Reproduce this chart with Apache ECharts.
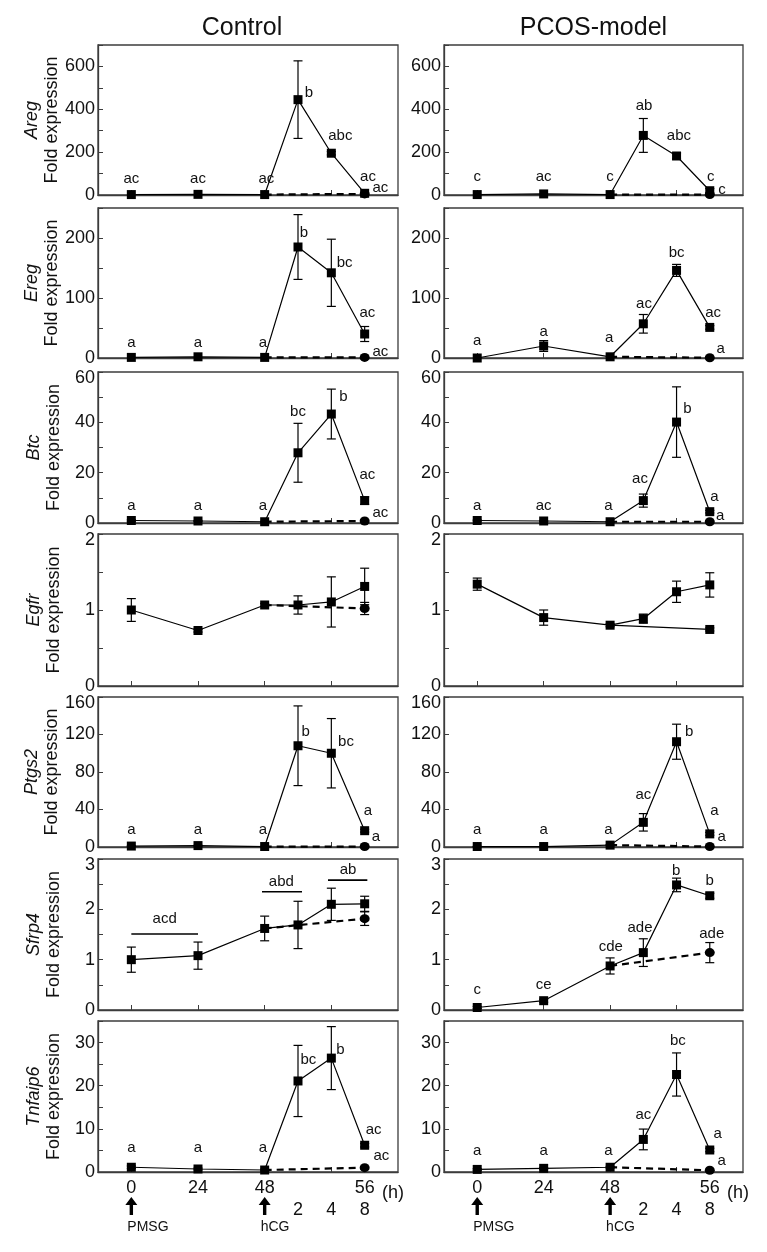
<!DOCTYPE html>
<html><head><meta charset="utf-8">
<script src="https://cdn.jsdelivr.net/npm/echarts@6/dist/echarts.min.js"></script>
<style>html,body{margin:0;padding:0;background:#fff}#c{width:767px;height:1252px}</style>
</head><body><div id="c"></div>
<script>
// ---------------- DATA ----------------
const groups = ['Control', 'PCOS-model'];
const genes = ['Areg', 'Ereg', 'Btc', 'Egfr', 'Ptgs2', 'Sfrp4', 'Tnfaip6'];
// time points: 0, 24, 48 h after PMSG, then 2, 4, 8 h after hCG (48 h)
const timeLabels = ['0', '24', '48', '2', '4', '8'];
const slots = [0, 2, 4, 5, 6, 7];           // position of each time point on the broken axis
const yMax = [700, 250, 60, 2, 160, 3, 35];
const yStep = [100, 50, 10, 0.5, 40, 0.5, 5];
const yLabelStep = [200, 100, 20, 1, 40, 1, 10];

// hCG-treated (solid, squares): means and SEM at the six time points
// no-hCG 8 h point (dashed, circle from 48 h): [mean, sem]
const aregCtrlMean = [2, 3, 2, 445, 195, 8];
const aregCtrlSem  = [0, 0, 0, 181, 8, 0];
const aregCtrlEnd  = [5, 0];
const aregPcosMean = [2, 5, 2, 278, 182, 20];
const aregPcosSem  = [0, 0, 0, 79, 14, 10];
const aregPcosEnd  = [2, 0];

const eregCtrlMean = [1, 2, 1, 185, 142, 40];
const eregCtrlSem  = [0, 0, 0, 54, 56, 12.5];
const eregCtrlEnd  = [1, 0];
const eregPcosMean = [0, 20, 2, 57, 146, 51];
const eregPcosSem  = [0, 9, 0, 15.5, 10, 3];
const eregPcosEnd  = [0.5, 0];

const btcCtrlMean = [1, 0.8, 0.5, 27.9, 43.3, 8.9];
const btcCtrlSem  = [0.3, 0.2, 0.2, 11.7, 9.9, 1.5];
const btcCtrlEnd  = [0.8, 0];
const btcPcosMean = [1, 0.8, 0.5, 8.9, 40.1, 4.5];
const btcPcosSem  = [0.2, 0.2, 0.1, 2.6, 14, 0.5];
const btcPcosEnd  = [0.5, 0];

const egfrCtrlMean = [1.0, 0.73, 1.066, 1.066, 1.106, 1.31];
const egfrCtrlSem  = [0.15, 0.02, 0.02, 0.12, 0.33, 0.24];
const egfrCtrlEnd  = [1.02, 0.08];
const egfrPcosMean = [1.34, 0.90, 0.80, 0.886, 1.24, 1.33];
const egfrPcosSem  = [0.08, 0.1, 0.02, 0.06, 0.14, 0.16];
const egfrPcosEnd  = [0.744, 0.02];

const ptgs2CtrlMean = [1, 1.5, 0.5, 108, 100, 17.4];
const ptgs2CtrlSem  = [0.3, 0.3, 0.2, 42.5, 37, 1.5];
const ptgs2CtrlEnd  = [0.5, 0];
const ptgs2PcosMean = [0.5, 0.5, 2, 26.3, 112.3, 14];
const ptgs2PcosSem  = [0.2, 0.2, 0.5, 9.3, 18.7, 1.5];
const ptgs2PcosEnd  = [0.5, 0];

const sfrp4CtrlMean = [1.0, 1.08, 1.62, 1.69, 2.10, 2.11];
const sfrp4CtrlSem  = [0.25, 0.27, 0.245, 0.47, 0.32, 0.15];
const sfrp4CtrlEnd  = [1.815, 0.135];
const sfrp4PcosMean = [0.05, 0.185, 0.875, 1.14, 2.485, 2.27];
const sfrp4PcosSem  = [0.02, 0.03, 0.16, 0.275, 0.135, 0.05];
const sfrp4PcosEnd  = [1.14, 0.2];

const tnfCtrlMean = [1.1, 0.7, 0.46, 21.1, 26.4, 6.2];
const tnfCtrlSem  = [0.3, 0.2, 0.2, 8.25, 7.3, 0.4];
const tnfCtrlEnd  = [1.0, 0];
const tnfPcosMean = [0.6, 0.85, 1.1, 7.55, 22.6, 5.1];
const tnfPcosSem  = [0.2, 0.2, 0.2, 2.4, 5.0, 0.4];
const tnfPcosEnd  = [0.4, 0];

// significance letters: [axis position, value, text]
const aregCtrlNotes = [[0,75,'ac'],[2,75,'ac'],[4.05,75,'ac'],[5.33,475,'b'],[6.27,277,'abc'],[7.1,85,'ac'],[7.47,33,'ac']];
const aregPcosNotes = [[0,86,'c'],[2,86,'ac'],[4,86,'c'],[5.02,414,'ab'],[6.07,277,'abc'],[7.03,86,'c'],[7.37,23,'c']];
const eregCtrlNotes = [[0,24.5,'a'],[2,24.5,'a'],[3.95,24.5,'a'],[5.18,209,'b'],[6.4,158,'bc'],[7.08,74.5,'ac'],[7.47,10.5,'ac']];
const eregPcosNotes = [[0,29,'a'],[2,44,'a'],[3.97,33,'a'],[5.02,90,'ac'],[6.0,176,'bc'],[7.1,76,'ac'],[7.33,14.5,'a']];
const btcCtrlNotes = [[0,6.8,'a'],[2,6.8,'a'],[3.95,6.8,'a'],[5.0,44,'bc'],[6.36,50.3,'b'],[7.08,19.2,'ac'],[7.47,3.9,'ac']];
const btcPcosNotes = [[0,6.9,'a'],[2,6.9,'ac'],[3.95,6.9,'a'],[4.9,17.6,'ac'],[6.33,45.5,'b'],[7.14,10.3,'a'],[7.31,2.8,'a']];
const egfrCtrlNotes = [];
const egfrPcosNotes = [];
const ptgs2CtrlNotes = [[0,18,'a'],[2,18,'a'],[3.95,18,'a'],[5.23,123,'b'],[6.44,112,'bc'],[7.1,38.7,'a'],[7.34,11,'a']];
const ptgs2PcosNotes = [[0,18,'a'],[2,18,'a'],[3.95,18,'a'],[5.0,55.5,'ac'],[6.38,123,'b'],[7.14,38.7,'a'],[7.36,11,'a']];
const sfrp4CtrlNotes = [[1,1.81,'acd'],[4.5,2.54,'abd'],[6.5,2.78,'ab']];
const sfrp4CtrlBars  = [[0,2,1.51],[3.92,5.12,2.35],[5.9,7.08,2.58]];
const sfrp4PcosNotes = [[0,0.41,'c'],[2,0.5,'ce'],[4.02,1.26,'cde'],[4.9,1.64,'ade'],[5.99,2.77,'b'],[7.0,2.57,'b'],[7.06,1.505,'ade']];
const tnfCtrlNotes = [[0,5.5,'a'],[2,5.5,'a'],[3.95,5.5,'a'],[5.31,26,'bc'],[6.27,28.4,'b'],[7.27,9.7,'ac'],[7.5,3.7,'ac']];
const tnfPcosNotes = [[0,4.9,'a'],[2,4.9,'a'],[3.95,4.9,'a'],[5.0,13.3,'ac'],[6.04,30.3,'bc'],[7.24,8.9,'a'],[7.36,2.6,'a']];

const bottomLabels = ['0', '24', '48', '\n2', '\n4', '56\n8'];

// ---------------- PANELS ----------------
const panels = [
  [aregCtrlMean, aregCtrlSem, aregCtrlEnd, aregCtrlNotes, []],
  [aregPcosMean, aregPcosSem, aregPcosEnd, aregPcosNotes, []],
  [eregCtrlMean, eregCtrlSem, eregCtrlEnd, eregCtrlNotes, []],
  [eregPcosMean, eregPcosSem, eregPcosEnd, eregPcosNotes, []],
  [btcCtrlMean, btcCtrlSem, btcCtrlEnd, btcCtrlNotes, []],
  [btcPcosMean, btcPcosSem, btcPcosEnd, btcPcosNotes, []],
  [egfrCtrlMean, egfrCtrlSem, egfrCtrlEnd, egfrCtrlNotes, []],
  [egfrPcosMean, egfrPcosSem, egfrPcosEnd, egfrPcosNotes, [], true],
  [ptgs2CtrlMean, ptgs2CtrlSem, ptgs2CtrlEnd, ptgs2CtrlNotes, []],
  [ptgs2PcosMean, ptgs2PcosSem, ptgs2PcosEnd, ptgs2PcosNotes, []],
  [sfrp4CtrlMean, sfrp4CtrlSem, sfrp4CtrlEnd, sfrp4CtrlNotes, sfrp4CtrlBars],
  [sfrp4PcosMean, sfrp4PcosSem, sfrp4PcosEnd, sfrp4PcosNotes, []],
  [tnfCtrlMean, tnfCtrlSem, tnfCtrlEnd, tnfCtrlNotes, []],
  [tnfPcosMean, tnfPcosSem, tnfPcosEnd, tnfPcosNotes, []]
];

// ---------------- LAYOUT ----------------
const FONT = '"Liberation Sans", Arial, sans-serif';
const rowTop = [45, 208, 372, 534, 697, 859, 1021];
const rowH = [150, 150, 151, 152, 150, 151, 151];
const colLeft = [98, 444];
const colW = [300, 299];
const axisCol = '#3c3c3c';
const txt = '#111';

const grid = [], xAxis = [], yAxis = [], series = [];
const lastRow = genes.length - 1;

function isMult(v, step) { const r = v / step; return Math.abs(r - Math.round(r)) < 1e-6; }

panels.forEach((p, g) => {
  const row = Math.floor(g / 2), col = g % 2;
  const [mean, sem, end, notes, bars, endSolid] = p;
  grid.push({ left: colLeft[col], top: rowTop[row], width: colW[col], height: rowH[row],
    show: true, borderColor: axisCol, borderWidth: 1.3, backgroundColor: 'transparent' });
  const bottom = row === lastRow;
  xAxis.push({
    type: 'value', gridIndex: g, min: -1, max: 8,
    splitLine: { show: false },
    axisLine: { show: true, onZero: false, lineStyle: { color: axisCol, width: 1.3 } },
    axisTick: { show: true, inside: true, length: 5, customValues: [0, 2, 4, 6], lineStyle: { color: axisCol } },
    axisLabel: bottom ? {
      show: true, margin: 5, customValues: slots.concat([7.85]),
      fontFamily: FONT, fontSize: 18, lineHeight: 22, color: txt,
      formatter: v => { if (v > 7.5) return '{h|(h)}'; const i = slots.indexOf(v); return i >= 0 ? bottomLabels[i] : ''; },
      rich: { h: { fontFamily: FONT, fontSize: 18, lineHeight: 22, color: txt, padding: [10, 0, 0, 0] } }
    } : { show: false }
  });
  const ls = yLabelStep[row], ymax = yMax[row];
  yAxis.push({
    type: 'value', gridIndex: g, min: 0, max: ymax, interval: yStep[row],
    splitLine: { show: false },
    axisLine: { show: true, onZero: false, lineStyle: { color: axisCol, width: 1.3 } },
    axisTick: { show: true, inside: true, length: 5, lineStyle: { color: axisCol } },
    axisLabel: { margin: 3, fontFamily: FONT, fontSize: 18, color: txt,
      formatter: v => !isMult(v, ls) ? '' : (Math.abs(v - ymax) < 1e-9 ? '{t|' + v + '}' : String(v)),
      rich: { t: { fontFamily: FONT, fontSize: 18, color: txt, padding: [12, 0, 0, 0] } } },
    name: col === 0 ? '{i|' + genes[row] + '}\n{n|Fold expression}' : '',
    nameLocation: 'middle', nameRotate: 90, nameGap: 34,
    nameTextStyle: { rich: {
      i: { fontFamily: FONT, fontSize: 18, fontStyle: 'italic', lineHeight: 20, color: txt },
      n: { fontFamily: FONT, fontSize: 18, lineHeight: 20, color: txt } } }
  });

  // dashed line (48 h -> 8 h without hCG)
  series.push({
    type: 'line', xAxisIndex: g, yAxisIndex: g, z: 3,
    data: [
      { value: [slots[2], mean[2]], symbol: 'none' },
      { value: [slots[5], end[0]], symbol: endSolid ? 'rect' : 'circle', symbolSize: endSolid ? 9 : [10, 9] }
    ],
    lineStyle: { color: '#000', width: endSolid ? 1.2 : 2.2, type: endSolid ? 'solid' : [7, 5] },
    itemStyle: { color: '#000' }, animation: false
  });
  // solid line with squares
  series.push({
    type: 'line', xAxisIndex: g, yAxisIndex: g, z: 4,
    data: mean.map((m, i) => [slots[i], m]),
    symbol: 'rect', symbolSize: 9,
    lineStyle: { color: '#000', width: 1.2 }, itemStyle: { color: '#000' }, animation: false
  });
  // error bars
  const errData = mean.map((m, i) => [slots[i], m, sem[i]]).filter(d => d[2] > 0);
  if (end[1] > 0) errData.push([slots[5], end[0], end[1]]);
  series.push({
    type: 'custom', xAxisIndex: g, yAxisIndex: g, z: 2, animation: false,
    data: errData,
    renderItem: (params, api) => {
      const x = api.value(0), m = api.value(1), e = api.value(2);
      const hi = api.coord([x, m + e]), lo = api.coord([x, m - e]);
      const w = 4.5, st = { stroke: '#000', lineWidth: 1.2 };
      return { type: 'group', children: [
        { type: 'line', shape: { x1: hi[0], y1: hi[1], x2: lo[0], y2: lo[1] }, style: st },
        { type: 'line', shape: { x1: hi[0] - w, y1: hi[1], x2: hi[0] + w, y2: hi[1] }, style: st },
        { type: 'line', shape: { x1: lo[0] - w, y1: lo[1], x2: lo[0] + w, y2: lo[1] }, style: st }
      ] };
    }
  });
  // significance letters
  if (notes.length) {
    series.push({
      type: 'custom', xAxisIndex: g, yAxisIndex: g, z: 5, animation: false,
      data: notes.map(n => [n[0], n[1]]),
      renderItem: (params, api) => {
        const pt = api.coord([api.value(0), api.value(1)]);
        return { type: 'text', x: pt[0], y: pt[1], style: {
          text: notes[params.dataIndex][2], textAlign: 'center', textVerticalAlign: 'middle',
          font: '15px ' + FONT, fill: txt } };
      }
    });
  }
  if (bars.length) {
    series.push({
      type: 'custom', xAxisIndex: g, yAxisIndex: g, z: 5, animation: false,
      data: bars,
      renderItem: (params, api) => {
        const a = api.coord([api.value(0), api.value(2)]), b = api.coord([api.value(1), api.value(2)]);
        return { type: 'line', shape: { x1: a[0], y1: a[1], x2: b[0], y2: b[1] }, style: { stroke: '#000', lineWidth: 1.6 } };
      }
    });
  }
});

const chart = echarts.init(document.getElementById('c'), null, { renderer: 'canvas' });
chart.setOption({ animation: false, backgroundColor: '#fff', grid, xAxis, yAxis, series });

// titles and treatment arrows
const graphic = [];
groups.forEach((t, col) => {
  const cx = colLeft[col] + colW[col] / 2 - (col === 0 ? 6 : 0);
  graphic.push({ type: 'text', x: cx, y: 28, style: { text: t, textAlign: 'center', textVerticalAlign: 'middle', font: '25px ' + FONT, fill: txt } });
  const gi = lastRow * 2 + col;
  [[slots[0], 'PMSG'], [slots[2], 'hCG']].forEach(([s, lab]) => {
    const px = chart.convertToPixel({ xAxisIndex: gi, yAxisIndex: gi }, [s, 0]);
    const x = px[0], y0 = px[1] + 25;
    graphic.push({ type: 'polygon', shape: { points: [[x, y0], [x - 6, y0 + 8], [x - 1.7, y0 + 8], [x - 1.7, y0 + 18], [x + 1.7, y0 + 18], [x + 1.7, y0 + 8], [x + 6, y0 + 8]] }, style: { fill: '#000' } });
    graphic.push({ type: 'text', x: x - 4, y: y0 + 30, style: { text: lab, textAlign: 'left', textVerticalAlign: 'middle', font: '14px ' + FONT, fill: txt } });
  });
});
chart.setOption({ graphic });
</script></body></html>
